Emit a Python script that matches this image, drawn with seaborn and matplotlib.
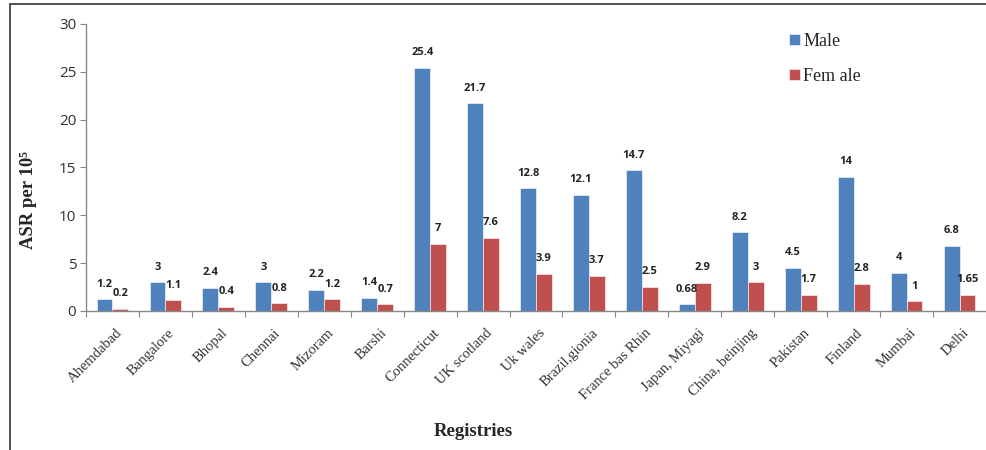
import pandas as pd
import numpy as np
import seaborn as sns
import matplotlib.pyplot as plt
from matplotlib.lines import Line2D

registries = ["Ahemdabad", "Bangalore", "Bhopal", "Chennai", "Mizoram", "Barshi",
              "Connecticut", "UK scotland", "Uk wales", "Brazil,gionia",
              "France bas Rhin", "Japan, Miyagi", "China, beinjing", "Pakistan",
              "Finland", "Mumbai", "Delhi"]
male = [1.2, 3, 2.4, 3, 2.2, 1.4, 25.4, 21.7, 12.8, 12.1, 14.7, 0.68, 8.2, 4.5, 14, 4, 6.8]
female = [0.2, 1.1, 0.4, 0.8, 1.2, 0.7, 7, 7.6, 3.9, 3.7, 2.5, 2.9, 3, 1.7, 2.8, 1, 1.65]
series_names = ["Male", "Fem ale"]
y_ticks = [0, 5, 10, 15, 20, 25, 30]

sns.set_style("white")

# Long format table for seaborn
df = pd.DataFrame({
    "Registry": registries * 2,
    "ASR": male + female,
    "Sex": [series_names[0]] * len(registries) + [series_names[1]] * len(registries),
})

fig = plt.figure(figsize=(9.87, 4.5), dpi=100)
ax = fig.add_axes([86 / 987, 0.309, 900 / 987, 0.638])

sns.barplot(data=df, x="Registry", y="ASR", hue="Sex", order=registries,
            hue_order=series_names, palette=["#4F81BD", "#C0504D"],
            width=0.6, saturation=1, edgecolor="white", linewidth=0.4, ax=ax)

# Value labels above each bar
for cont, vals in zip(ax.containers, [male, female]):
    ax.bar_label(cont, labels=["%g" % v for v in vals], padding=7,
                 fontsize=8, fontweight="bold", family="Open Sans", color="#222222")

ax.set_ylim(0, 30)
ax.set_xlim(-0.5, len(registries) - 0.5)
ax.set_yticks(y_ticks)
ax.set_yticklabels([str(t) for t in y_ticks], family="Open Sans", fontsize=11, color="#333333")

# Ticks at the category boundaries, labels (slightly right of centre) as minor ticks
ax.set_xticks(np.arange(len(registries) + 1) - 0.5)
ax.set_xticklabels([])
ax.set_xticks(np.arange(len(registries)) + 0.05, minor=True)
ax.set_xticklabels(registries, minor=True, rotation=45, ha="right",
                   rotation_mode="anchor", family="Liberation Serif",
                   fontsize=10.5, color="#333333")
ax.tick_params(axis="x", which="major", direction="out", length=4, color="#888888", bottom=True)
ax.tick_params(axis="x", which="minor", length=0, pad=11)
ax.tick_params(axis="y", direction="out", length=4, color="#888888", left=True, pad=3)

for s in ["top", "right"]:
    ax.spines[s].set_visible(False)
for s in ["left", "bottom"]:
    ax.spines[s].set_color("#888888")
    ax.spines[s].set_linewidth(1.0)

ax.set_ylabel("ASR per 10⁵", family="Liberation Serif", fontweight="bold", fontsize=13.5)
ax.yaxis.set_label_coords(-0.054, 0.387)
ax.set_xlabel("Registries", family="Liberation Serif", fontweight="bold", fontsize=13.5)
ax.xaxis.set_label_coords(0.43, -0.39)

ax.legend(loc="upper left", bbox_to_anchor=(0.763, 1.025), frameon=False,
          prop={"family": "Liberation Serif", "size": 13},
          handlelength=0.6, handleheight=0.6, handletextpad=0.2, labelspacing=1.0)

# Frame lines (left and top edges) around the figure
fig.add_artist(Line2D([10 / 987, 10 / 987], [0, 1 - 4 / 450], transform=fig.transFigure,
                      color="#444444", linewidth=1.3))
fig.add_artist(Line2D([10 / 987, 1], [1 - 4 / 450, 1 - 4 / 450], transform=fig.transFigure,
                      color="#444444", linewidth=1.3))

plt.savefig("out.png", dpi=100)
